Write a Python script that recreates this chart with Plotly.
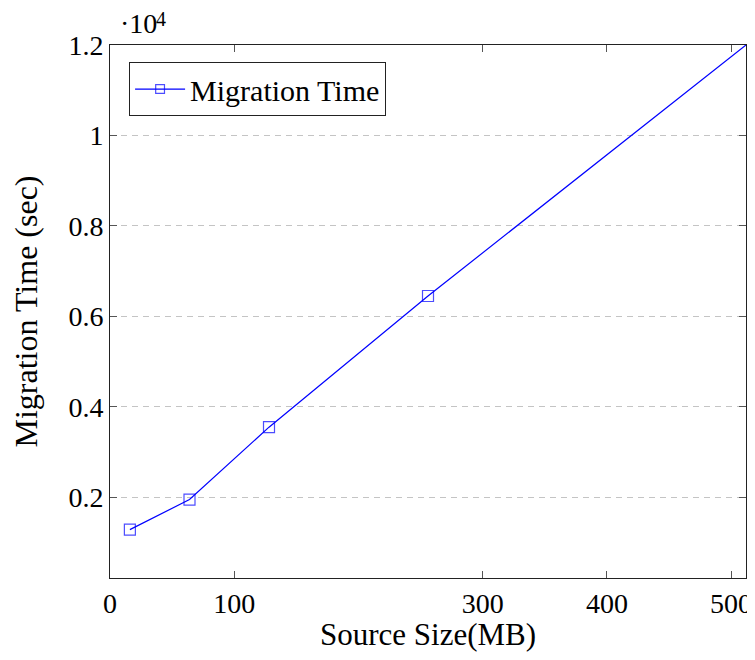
import plotly.graph_objects as go

source_size_mb = [16, 64, 128, 256, 512]
migration_time_sec = [1285, 1950, 3550, 6450, 12000]
x_tick_vals = [0, 100, 300, 400, 500]
x_tick_text = ["0", "100", "300", "400", "500"]
y_tick_vals = [2000, 4000, 6000, 8000, 10000, 12000]
y_tick_text = ["0.2", "0.4", "0.6", "0.8", "1", "1.2"]

FONT = "Liberation Serif"
FS = 28

# the page body has an 8px margin, so the figure is laid out 8px smaller
W, H = 747, 644

fig = go.Figure()
fig.add_trace(go.Scatter(
    x=source_size_mb, y=migration_time_sec, mode="lines+markers",
    name="Migration Time",
    line=dict(color="#0000ff", width=1.2),
    marker=dict(symbol="square-open", size=[11, 11, 11, 11, 0], color="#0000ff",
                line=dict(width=1.2)),
    cliponaxis=True,
))

fig.update_layout(
    width=W, height=H,
    margin=dict(l=102, r=9, t=37, b=74, autoexpand=False),
    paper_bgcolor="white", plot_bgcolor="white",
    font=dict(family=FONT, size=FS, color="black"),
    showlegend=True,
    legend=dict(x=0.03, y=0.968, xanchor="left", yanchor="top",
                bordercolor="#222", borderwidth=1, bgcolor="white",
                itemwidth=50, tracegroupgap=0,
                font=dict(family=FONT, size=30)),
    xaxis=dict(range=[0, 512], tickvals=x_tick_vals, ticktext=x_tick_text,
               ticks="inside", ticklen=7, tickcolor="#555", mirror="ticks",
               showline=True, linecolor="#222", linewidth=1, automargin=False,
               showgrid=False, zeroline=False,
               title=dict(text="Source Size(MB)", font=dict(size=31), standoff=8)),
    yaxis=dict(range=[215, 12000], tickvals=y_tick_vals, ticktext=y_tick_text,
               ticks="inside", ticklen=7, tickcolor="#555", mirror="ticks",
               showline=True, linecolor="#222", linewidth=1, automargin=False,
               showgrid=True, gridcolor="#c4c4c4", griddash="6px,5px", gridwidth=1,
               zeroline=False,
               title=dict(text="Migration Time (sec)", font=dict(size=32), standoff=30)),
)

# axis multiplier "·10^4"
fig.add_annotation(x=0.0, y=1.0, xref="paper", yref="paper",
                   xanchor="left", yanchor="bottom", yshift=4, xshift=8,
                   text="·10", showarrow=False,
                   font=dict(family=FONT, size=FS))
fig.add_annotation(x=0.0, y=1.0, xref="paper", yref="paper",
                   xanchor="left", yanchor="bottom", yshift=13, xshift=44,
                   text="4", showarrow=False,
                   font=dict(family=FONT, size=20))

fig.write_html("out.html")
